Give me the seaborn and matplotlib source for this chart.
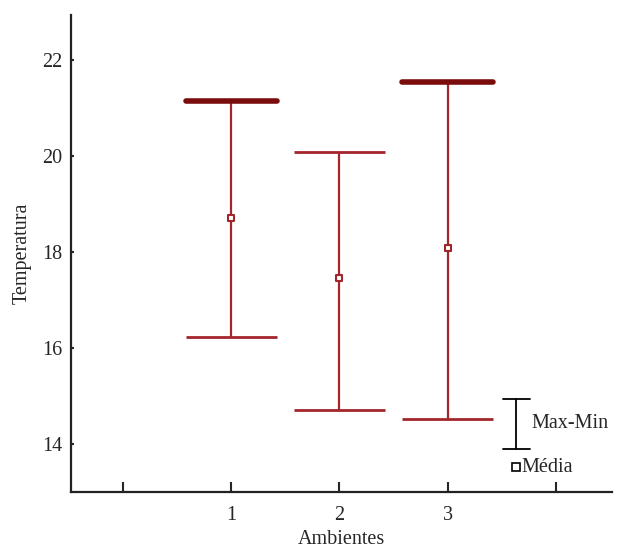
import matplotlib
matplotlib.use("Agg")
import matplotlib.pyplot as plt
import seaborn as sns
import pandas as pd
from matplotlib.lines import Line2D

ambientes = [1, 2, 3]
t_max = [21.15, 20.10, 21.55]
t_min = [16.23, 14.71, 14.53]
t_media = [18.71, 17.46, 18.08]
x_ticks = [0, 1, 2, 3, 4]
x_labels = ["", "1", "2", "3", ""]
y_ticks = [14, 16, 18, 20, 22]

sns.set_style("ticks")
plt.rcParams["font.family"] = ["Liberation Serif", "DejaVu Serif"]

df = pd.DataFrame({"Ambientes": ambientes, "Max": t_max, "Min": t_min, "Media": t_media})

fig = plt.figure(figsize=(6.17, 5.51), dpi=100)
ax = fig.add_axes([0.115, 0.107, 0.877, 0.866])

red = "#a3262b"
dark = "#7a0c0c"
half = 0.42
bold_top = [True, False, True]

ax.vlines(df["Ambientes"], df["Min"], df["Max"], color=red, lw=1.6, zorder=2)
ax.hlines(df["Min"], df["Ambientes"] - half, df["Ambientes"] + half, color=red, lw=2.0, zorder=2)
for xi, top, b in zip(df["Ambientes"], df["Max"], bold_top):
    ax.hlines(top, xi - half, xi + half, color=dark if b else red,
              lw=4.0 if b else 2.0, zorder=2, capstyle="round" if b else "butt")

sns.scatterplot(data=df, x="Ambientes", y="Media", ax=ax, marker="s", s=24,
                facecolor="white", edgecolor=red, linewidth=1.5, zorder=3, legend=False)

ax.set_xlim(-0.48, 4.52)
ax.set_ylim(13, 22.95)
ax.set_xticks(x_ticks)
ax.set_xticklabels(x_labels)
ax.set_yticks(y_ticks)
ax.set_xlabel("Ambientes", fontsize=14.5, labelpad=4)
ax.set_ylabel("Temperatura", fontsize=14.5, labelpad=8)
ax.tick_params(axis="x", direction="in", length=7, width=1.5, labelsize=14.5, pad=10)
ax.tick_params(axis="y", direction="in", length=2.5, width=1.5, labelsize=14.5, pad=6)
for s in ["top", "right"]:
    ax.spines[s].set_visible(False)
for s in ["left", "bottom"]:
    ax.spines[s].set_linewidth(1.6)
    ax.spines[s].set_color("#222222")

# legend block
tr = ax.transAxes
lx = 0.8226
ax.add_line(Line2D([lx, lx], [0.090, 0.195], transform=tr, color="black", lw=1.3))
ax.add_line(Line2D([lx - 0.025, lx + 0.025], [0.195, 0.195], transform=tr, color="black", lw=1.3))
ax.add_line(Line2D([lx - 0.025, lx + 0.025], [0.090, 0.090], transform=tr, color="black", lw=1.3))
ax.text(0.851, 0.1426, "Max-Min", transform=tr, fontsize=14.5, va="center", ha="left")
ax.add_line(Line2D([lx], [0.0524], transform=tr, marker="s", markersize=5.5,
                   markerfacecolor="white", markeredgecolor="black", markeredgewidth=1.2, lw=0))
ax.text(0.832, 0.0524, "Média", transform=tr, fontsize=14.5, va="center", ha="left")

fig.savefig("out.png", dpi=100)
